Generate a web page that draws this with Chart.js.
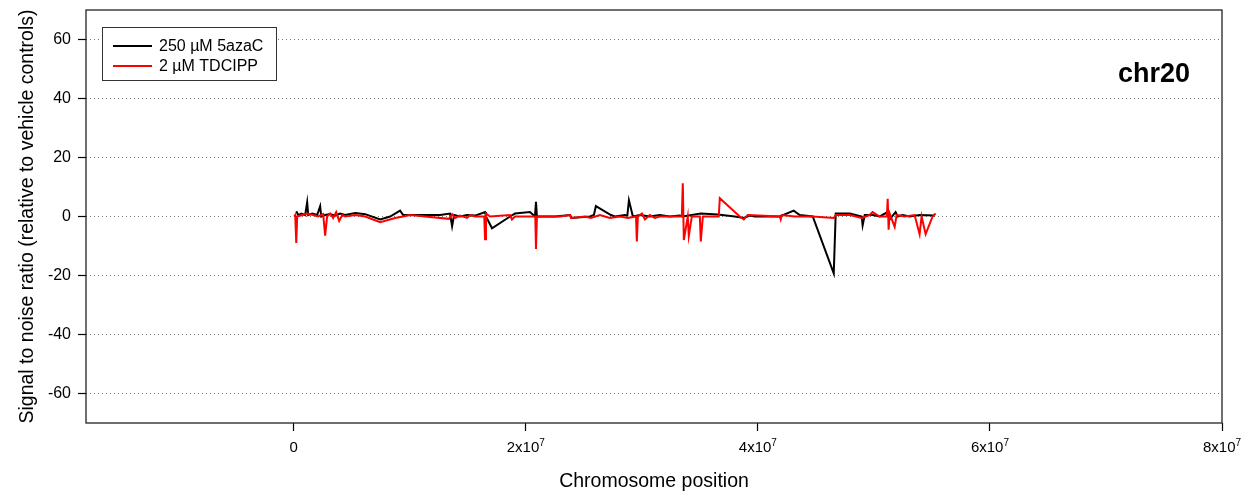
<!DOCTYPE html>
<html><head><meta charset="utf-8">
<script src="https://cdn.jsdelivr.net/npm/chart.js@4.4.0/dist/chart.umd.min.js"></script>
<style>html,body{margin:0;padding:0;background:#fff}#wrap{width:1252px;height:499px}</style>
</head><body><div id="wrap"><canvas id="c" width="1252" height="499"></canvas></div>
<script>
const seriesNames = ['250 \u00B5M 5azaC', '2 \u00B5M TDCIPP'];
const chromLabel = 'chr20';
const xTitle = 'Chromosome position';
const yTitle = 'Signal to noise ratio (relative to vehicle controls)';
const xTickValues = [0, 2e7, 4e7, 6e7, 8e7];
const xTickMantissa = ['0', '2x10', '4x10', '6x10', '8x10'];
const xTickExponent = ['', '7', '7', '7', '7'];
const yTickValues = [-60, -40, -20, 0, 20, 40, 60];

// positions in Mb
const azaPosMb = [0.22,0.39,0.65,0.99,1.16,1.25,1.59,2.02,2.28,2.37,2.71,3.14,3.57,4.00,4.43,5.30,6.16,7.45,8.31,9.17,9.43,10.89,12.61,13.47,13.65,13.82,14.33,14.94,15.63,16.49,16.57,17.09,18.64,19.07,20.36,20.79,20.88,20.96,22.52,23.81,23.98,25.53,25.87,26.04,27.34,27.68,28.54,28.75,28.89,29.23,29.83,30.69,31.55,32.41,33.27,33.53,35.08,36.55,38.01,38.79,39.31,39.74,41.89,43.09,43.61,44.73,46.54,46.71,47.92,48.95,49.03,49.21,49.89,50.50,51.19,51.36,51.87,52.05,52.48,53.08,53.94,55.23];
const azaVal = [1.8,0.5,1,0.5,4.8,0.5,1,0.5,3.5,0,0.5,0.8,0.3,1,0.5,1.2,0.8,-1,0,2,0.5,0.5,0.5,1,-3.3,0.5,0,0.5,0.3,1.5,0,-4,0,1,1.5,0,5,0,0,0.5,-0.5,0,0.5,3.5,0.5,0,0.5,0.3,5.5,0,0.5,0,0.5,0,0.3,0,1,0.7,0,-0.5,0.3,0,0,2,0.5,0,-19.3,1,1,0,-3,0.5,0.5,0,1.5,-1,1.5,0,0.5,0,0.5,0.3];

const tdcPosMb = [0.04,0.13,0.22,0.30,0.73,1.16,1.68,2.11,2.54,2.71,2.88,3.14,3.40,3.66,3.92,4.18,4.43,5.30,6.16,7.45,8.74,9.43,10.03,13.39,13.65,13.91,14.33,14.94,15.20,15.63,16.42,16.49,16.57,16.92,18.64,18.81,19.07,20.82,20.88,20.96,22.95,23.81,23.89,25.10,25.61,26.39,27.25,28.11,28.80,29.50,29.57,29.66,30.01,30.27,30.69,31.12,31.55,32.41,33.45,33.53,33.62,33.96,34.05,34.31,35.00,35.08,35.26,36.63,36.72,38.44,38.79,39.13,41.89,41.97,42.06,43.18,44.73,46.54,46.71,47.92,48.95,49.64,49.89,50.50,51.12,51.19,51.27,51.36,51.79,51.96,52.65,53.51,53.94,54.11,54.46,55.06,55.32];
const tdcVal = [0,0.5,-9,0,0.5,1,0.5,0,0.8,-6.5,0,1,-0.5,1.5,-1.5,0.5,0,0.5,0,-1.9,-0.5,0,0.5,-0.8,0.8,-0.5,0.3,-0.5,0.5,0,0,-7.7,1,0,0.5,-1,0,0,-11,0,0,0.5,-0.5,0,-0.5,0.5,-0.5,0,-0.5,0,-8.5,0,1,-1,0.5,-0.5,0,0,0,11.3,-8,0,-6.5,0,0,-8.5,0,0,6.2,0,-1,0.5,0,-1,0.5,0,0,-0.5,0.5,0.5,-0.5,0.5,1.5,0,0,6,-4.5,1,-3.5,0.5,0,0.5,-6,0,-6,0,1];

const toPts = (pos, val) => pos.map((p, i) => ({x: p * 1e6, y: val[i]}));
const FONT = "'Liberation Sans', Arial, sans-serif";

const overlay = {
  id: 'overlay',
  afterDraw(chart) {
    const {ctx, chartArea: a} = chart;
    ctx.save();
    // frame
    ctx.strokeStyle = '#222';
    ctx.lineWidth = 1.3;
    ctx.strokeRect(a.left, a.top, a.right - a.left, a.bottom - a.top);
    // x tick labels with superscript exponent
    const xs = chart.scales.x;
    ctx.fillStyle = '#000';
    ctx.textBaseline = 'alphabetic';
    ctx.textAlign = 'left';
    xTickValues.forEach((v, i) => {
      const px = xs.getPixelForValue(v);
      ctx.font = '15px ' + FONT;
      const w1 = ctx.measureText(xTickMantissa[i]).width;
      ctx.font = '10px ' + FONT;
      const w2 = xTickExponent[i] ? ctx.measureText(xTickExponent[i]).width : 0;
      const x0 = px - (w1 + w2) / 2;
      const base = a.bottom + 29;
      ctx.font = '15px ' + FONT;
      ctx.fillText(xTickMantissa[i], x0, base);
      if (xTickExponent[i]) {
        ctx.font = '10px ' + FONT;
        ctx.fillText(xTickExponent[i], x0 + w1, base - 6);
      }
    });
    // legend
    const lx = a.left + 16, ly = a.top + 17, lw = 174, lh = 53;
    ctx.fillStyle = '#fff';
    ctx.fillRect(lx, ly, lw, lh);
    ctx.strokeStyle = '#333';
    ctx.lineWidth = 1;
    ctx.strokeRect(lx + 0.5, ly + 0.5, lw, lh);
    const ds = chart.data.datasets;
    ctx.font = '16px ' + FONT;
    ctx.textBaseline = 'middle';
    ds.forEach((d, i) => {
      const y = ly + 19 + i * 20;
      ctx.strokeStyle = d.borderColor;
      ctx.lineWidth = 2;
      ctx.beginPath(); ctx.moveTo(lx + 11, y); ctx.lineTo(lx + 50, y); ctx.stroke();
      ctx.fillStyle = '#000';
      ctx.fillText(d.label, lx + 57, y + 1);
    });
    // chromosome label
    ctx.font = 'bold 27px ' + FONT;
    ctx.textAlign = 'right';
    ctx.fillStyle = '#000';
    ctx.fillText(chromLabel, a.right - 32, a.top + 65);
    ctx.restore();
  }
};

new Chart(document.getElementById('c'), {
  type: 'line',
  data: {
    datasets: [
      {label: seriesNames[0], data: toPts(azaPosMb, azaVal), borderColor: '#000', borderWidth: 2, pointRadius: 0, tension: 0, order: 2},
      {label: seriesNames[1], data: toPts(tdcPosMb, tdcVal), borderColor: '#ff0000', borderWidth: 2, pointRadius: 0, tension: 0, order: 1}
    ]
  },
  options: {
    responsive: false,
    animation: false,
    devicePixelRatio: 1,
    layout: {padding: {top: 10, right: 30, left: 0, bottom: 0}},
    plugins: {legend: {display: false}, tooltip: {enabled: false}},
    scales: {
      x: {
        type: 'linear',
        min: -1.79e7, max: 8e7,
        afterFit(s) { s.height = 76; s.paddingLeft = 0; s.paddingRight = 0; },
        afterBuildTicks(s) { s.ticks = xTickValues.map(v => ({value: v})); },
        border: {display: false},
        grid: {drawOnChartArea: false, drawTicks: true, tickLength: 8, tickColor: '#000', tickWidth: 1.2},
        ticks: {display: false},
        title: {display: true, text: xTitle, color: '#000', font: {family: FONT, size: 19.5}, padding: {top: 0, bottom: 6}}
      },
      y: {
        min: -70, max: 70,
        afterFit(s) { s.width = 86; s.paddingTop = 0; s.paddingBottom = 0; },
        afterBuildTicks(s) { s.ticks = yTickValues.map(v => ({value: v})); },
        border: {display: false, dash: [1, 3]},
        grid: {color: '#777', lineWidth: 1, tickBorderDash: [], tickColor: '#000', tickLength: 8, tickWidth: 1.2},
        ticks: {padding: 7, color: '#000', font: {family: FONT, size: 16}},
        title: {display: true, text: yTitle, color: '#000', font: {family: FONT, size: 19.5}, padding: {top: 16, bottom: 0}}
      }
    }
  },
  plugins: [overlay]
});
</script></body></html>
